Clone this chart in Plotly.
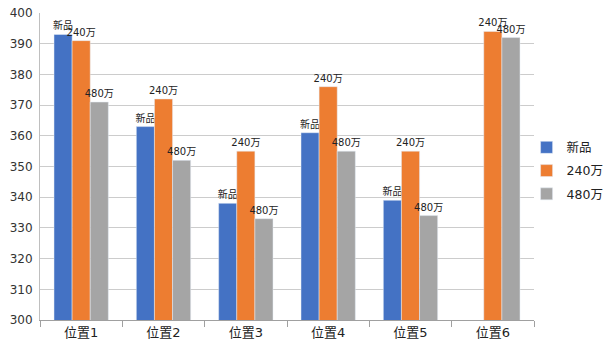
import plotly.graph_objects as go

categories = ["位置1", "位置2", "位置3", "位置4", "位置5", "位置6"]
series_names = ["新品", "240万", "480万"]
new_vals = [393, 363, 338, 361, 339, None]
v240 = [391, 372, 355, 376, 355, 394]
v480 = [371, 352, 333, 355, 334, 392]
colors = ["#4472C4", "#ED7D31", "#A5A5A5"]
y_ticks = list(range(300, 401, 10))

font_fam = "DejaVu Sans, Noto Sans CJK SC, sans-serif"

fig = go.Figure()
for name, vals, col in zip(series_names, [new_vals, v240, v480], colors):
    fig.add_trace(go.Bar(
        x=categories, y=vals, name=name, marker_color=col, legendgroup=name,
        text=[name if v is not None else "" for v in vals],
        textposition="outside", constraintext="none", cliponaxis=False,
        textfont=dict(size=10, color="#222222", family=font_fam),
    ))

fig.update_layout(
    width=614, height=352,
    margin=dict(l=40, r=80, t=13, b=32, autoexpand=False),
    paper_bgcolor="white", plot_bgcolor="white",
    barmode="group", bargap=0.34, bargroupgap=0,
    font=dict(family=font_fam, size=11, color="#333333"),
    legend=dict(x=0.985, y=0.61, xanchor="left", yanchor="top",
                font=dict(size=12.5, color="#222222"), tracegroupgap=4,
                itemwidth=30, bgcolor="rgba(0,0,0,0)"),
    showlegend=True,
)
fig.update_yaxes(range=[300, 400], tickvals=y_ticks, showgrid=True,
                 gridcolor="#CCCCCC", gridwidth=1.2, showline=True, linecolor="#BFBFBF",
                 zeroline=False, tickfont=dict(size=12, color="#333333"), ticklabelstandoff=4)
fig.update_xaxes(showline=True, linecolor="#A0A0A0", ticks="outside",
                 tickson="boundaries", ticklen=6, tickcolor="#A0A0A0",
                 tickfont=dict(size=13, color="#222222"))

fig.write_html("out.html")
